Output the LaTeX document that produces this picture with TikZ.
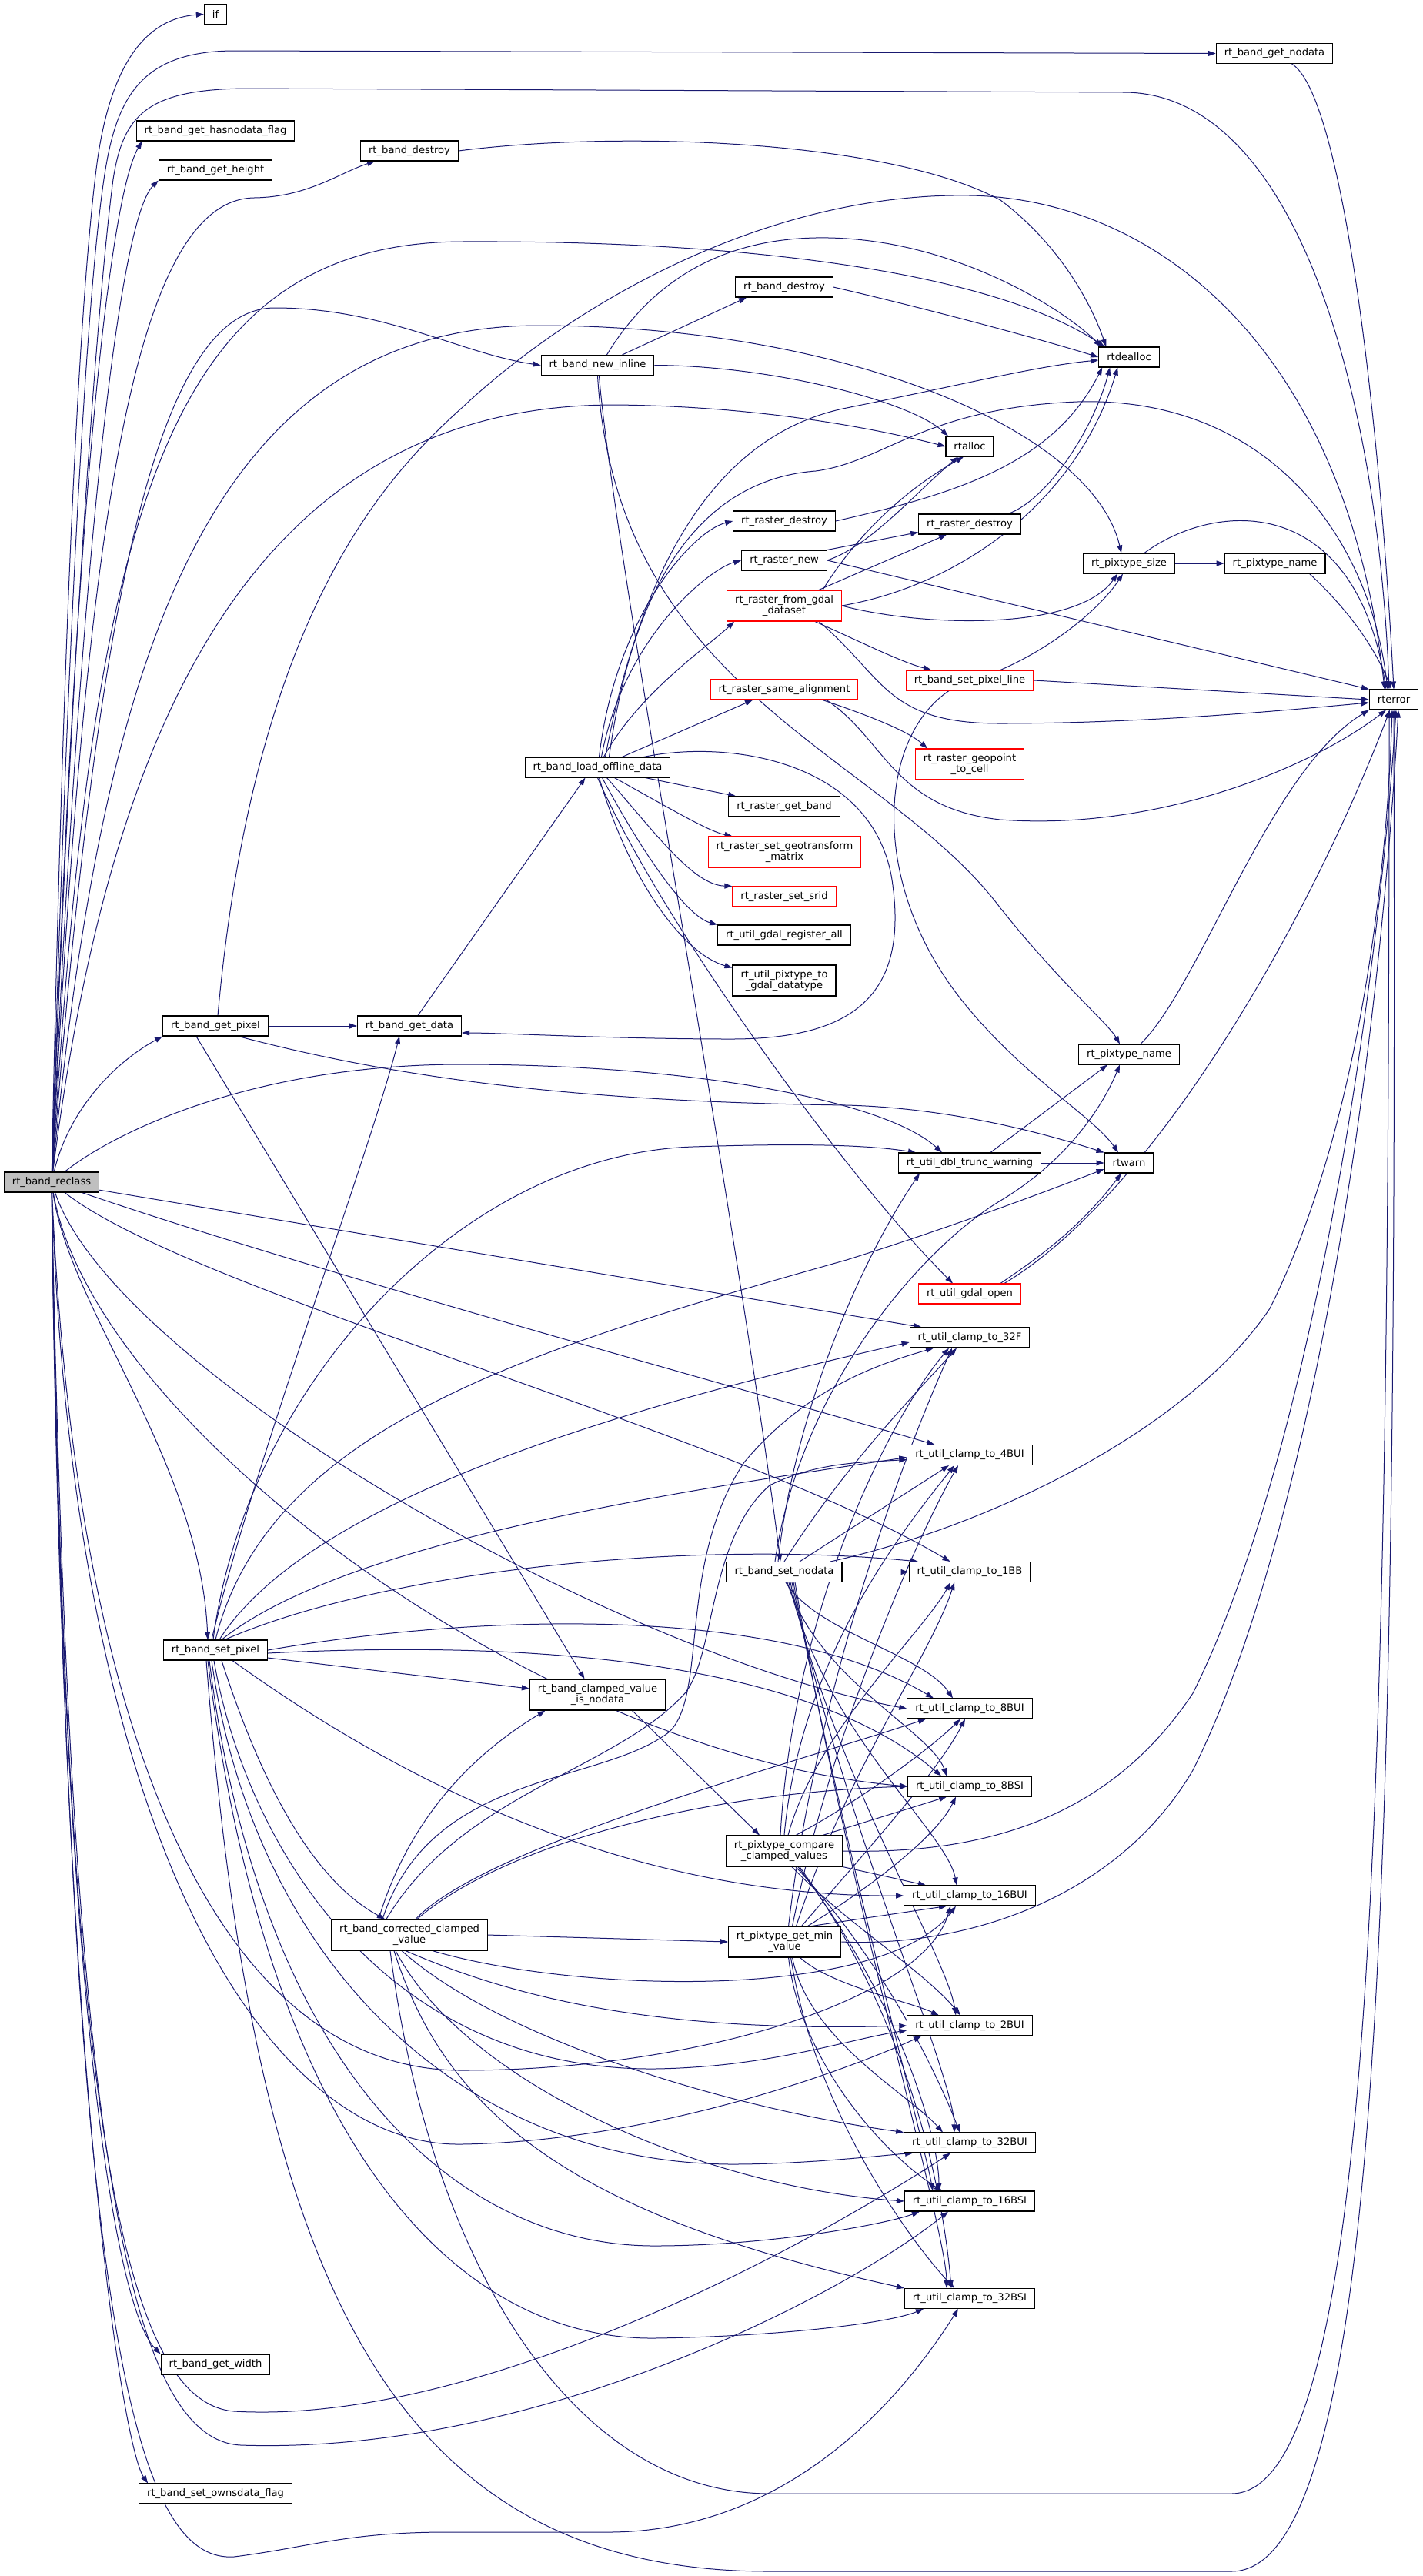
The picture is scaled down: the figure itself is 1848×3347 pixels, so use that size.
\documentclass[tikz,border=0pt]{standalone}
\usepackage{fontspec}
\setmainfont{DejaVu Sans}
\usetikzlibrary{arrows.meta,backgrounds}
\definecolor{edgeblue}{RGB}{25,25,112}
\definecolor{rootgray}{RGB}{191,191,191}
\tikzset{
  fn/.style={draw=black, line width=1.1pt, fill=white, font=\fontsize{13.1}{14}\selectfont,
    inner xsep=10.5pt, inner ysep=0pt, minimum height=26pt, align=center},
  twoline/.style={fn, minimum height=40pt},
  redfn/.style={fn, draw=red},
  redtwo/.style={twoline, draw=red},
  root/.style={fn, fill=rootgray},
  call/.style={draw=edgeblue, line width=1pt, -{Triangle[length=10pt,width=7pt]}}
}
\begin{document}
\begin{tikzpicture}[x=1pt,y=-1pt]
\useasboundingbox (0,0) rectangle (1848,3347);

% functions
\node[root] (reclass) at (67,1536) {rt\_band\_reclass};
\node[fn] (ifn) at (280,18.5) {if};
\node[fn] (hasnd) at (280,170) {rt\_band\_get\_hasnodata\_flag};
\node[fn] (height) at (280,221) {rt\_band\_get\_height};
\node[fn] (bdestroyA) at (532,196) {rt\_band\_destroy};
\node[fn] (getnd) at (1656,69.5) {rt\_band\_get\_nodata};
\node[fn] (rterror) at (1811,909) {rterror};
\node[fn] (dealloc) at (1467,464) {rtdealloc};
\node[fn] (newinl) at (776.5,474.5) {rt\_band\_new\_inline};
\node[fn] (bdestroyB) at (1019,373) {rt\_band\_destroy};
\node[fn] (alloc) at (1260,580) {rtalloc};
\node[fn] (rdestroyA) at (1019,677) {rt\_raster\_destroy};
\node[fn] (rdestroyB) at (1260,681) {rt\_raster\_destroy};
\node[fn] (rnew) at (1019,728) {rt\_raster\_new};
\node[fn] (pxsize) at (1467,732) {rt\_pixtype\_size};
\node[fn] (pxnameA) at (1656.6,732) {rt\_pixtype\_name};
\node[redtwo] (fromgdal) at (1019,787) {rt\_raster\_from\_gdal\\\_dataset};
\node[redfn] (pixline) at (1260,884) {rt\_band\_set\_pixel\_line};
\node[redfn] (samealign) at (1019,896) {rt\_raster\_same\_alignment};
\node[redtwo] (geopt) at (1260,993) {rt\_raster\_geopoint\\\_to\_cell};
\node[fn] (loadoff) at (776.5,997) {rt\_band\_load\_offline\_data};
\node[fn] (getband) at (1019,1048) {rt\_raster\_get\_band};
\node[redtwo] (setgt) at (1019.5,1107) {rt\_raster\_set\_geotransform\\\_matrix};
\node[redfn] (setsrid) at (1019,1165) {rt\_raster\_set\_srid};
\node[fn] (gdalreg) at (1019,1215) {rt\_util\_gdal\_register\_all};
\node[twoline] (px2gdal) at (1019,1274) {rt\_util\_pixtype\_to\\\_gdal\_datatype};
\node[fn] (getpix) at (280,1333) {rt\_band\_get\_pixel};
\node[fn] (getdata) at (532,1333) {rt\_band\_get\_data};
\node[fn] (pxnameB) at (1467,1370) {rt\_pixtype\_name};
\node[fn] (dbltrunc) at (1260,1511) {rt\_util\_dbl\_trunc\_warning};
\node[fn] (rtwarn) at (1467,1511) {rtwarn};
\node[redfn] (gdalopen) at (1260,1681) {rt\_util\_gdal\_open};
\node[fn] (c32F) at (1260,1738) {rt\_util\_clamp\_to\_32F};
\node[fn] (c4BUI) at (1260,1890.5) {rt\_util\_clamp\_to\_4BUI};
\node[fn] (setnd) at (1019,2042.5) {rt\_band\_set\_nodata};
\node[fn] (c1BB) at (1260,2042.5) {rt\_util\_clamp\_to\_1BB};
\node[fn] (setpix) at (280,2144) {rt\_band\_set\_pixel};
\node[twoline] (isnd) at (776.5,2202) {rt\_band\_clamped\_value\\\_is\_nodata};
\node[fn] (c8BUI) at (1260,2220) {rt\_util\_clamp\_to\_8BUI};
\node[fn] (c8BSI) at (1260,2321) {rt\_util\_clamp\_to\_8BSI};
\node[twoline] (cmpval) at (1019,2405) {rt\_pixtype\_compare\\\_clamped\_values};
\node[fn] (c16BUI) at (1260,2463) {rt\_util\_clamp\_to\_16BUI};
\node[twoline] (corr) at (532,2514) {rt\_band\_corrected\_clamped\\\_value};
\node[twoline] (minval) at (1019.6,2523) {rt\_pixtype\_get\_min\\\_value};
\node[fn] (c2BUI) at (1260,2632) {rt\_util\_clamp\_to\_2BUI};
\node[fn] (c32BUI) at (1260,2784) {rt\_util\_clamp\_to\_32BUI};
\node[fn] (c16BSI) at (1260,2860) {rt\_util\_clamp\_to\_16BSI};
\node[fn] (c32BSI) at (1260,2986.5) {rt\_util\_clamp\_to\_32BSI};
\node[fn] (getwidth) at (280,3072) {rt\_band\_get\_width};
\node[fn] (ownsdata) at (280,3240) {rt\_band\_set\_ownsdata\_flag};

\begin{scope}[on background layer]
% calls made by rt_band_reclass
\draw[call] (reclass) .. controls (80,900) and (100,420) .. (125,220) .. controls (140,100) and (180,25) .. (ifn.west);
\draw[call] (reclass) .. controls (85,900) and (110,400) .. (135,233) .. controls (150,130) and (180,68) .. (300,66) -- (getnd.west);
\draw[call] (reclass) .. controls (90,900) and (125,400) .. (147,233) .. controls (160,150) and (190,116) .. (320,115) -- (1460,120) .. controls (1680,120) and (1790,500) .. ([xshift=-6pt]rterror.north);
\draw[call] (reclass) .. controls (95,700) and (140,260) .. ([xshift=8pt]hasnd.south west);
\draw[call] (reclass) .. controls (100,800) and (150,290) .. (height.south west);
\draw[call] (reclass) .. controls (110,700) and (170,260) .. (330,257) .. controls (400,256) and (440,225) .. ([xshift=-45pt]bdestroyA.south);
\draw[call] (reclass) .. controls (120,700) and (200,316) .. (600,314) .. controls (1000,312) and (1300,360) .. ([xshift=8pt]dealloc.north west);
\draw[call] (reclass) .. controls (125,800) and (200,400) .. (357,400) .. controls (500,400) and (600,460) .. (newinl.west);
\draw[call] (reclass) .. controls (130,900) and (250,423) .. (700,423) .. controls (1100,423) and (1420,560) .. ([xshift=-10pt]pxsize.north);
\draw[call] (reclass) .. controls (135,1000) and (300,525) .. (800,526) .. controls (1000,528) and (1150,560) .. (alloc.west);
\draw[call] (reclass) .. controls (90,1440) and (150,1380) .. (getpix.south west);
\draw[call] (reclass) .. controls (150,1470) and (330,1383) .. (600,1383) .. controls (900,1383) and (1150,1430) .. ([xshift=-36pt]dbltrunc.north);
\draw[call] (reclass) -- ([xshift=16pt]c32F.north west);
\draw[call] (reclass) .. controls (400,1650) and (950,1800) .. ([xshift=36pt]c4BUI.north west);
\draw[call] (reclass) .. controls (250,1680) and (950,1860) .. ([xshift=54pt]c1BB.north west);
\draw[call] (reclass) .. controls (150,1780) and (800,2150) .. (c8BUI.west);
\draw[call] (reclass) .. controls (120,1850) and (700,2280) .. (c8BSI.west);
\draw[call] (reclass) .. controls (90,1700) and (260,1900) .. ([xshift=-10pt]setpix.north);
\draw[call] (reclass) .. controls (100,2300) and (300,2690) .. (600,2690) .. controls (900,2690) and (1200,2600) .. ([xshift=-25pt]c16BUI.south);
\draw[call] (reclass) .. controls (95,2400) and (350,2790) .. (600,2786) .. controls (850,2782) and (1100,2690) .. ([xshift=-63pt]c2BUI.south);
\draw[call] (reclass) .. controls (85,2700) and (150,3120) .. (304,3133) .. controls (600,3150) and (1000,2950) .. ([xshift=-25pt]c32BUI.south);
\draw[call] (reclass) .. controls (90,2750) and (160,3170) .. (313,3177) .. controls (700,3190) and (1100,2980) .. ([xshift=-28pt]c16BSI.south);
\draw[call] (reclass) .. controls (90,3000) and (170,3330) .. (304,3322) .. controls (400,3310) and (450,3290) .. (580,3290) -- (790,3290) .. controls (1000,3290) and (1150,3150) .. ([xshift=-15pt]c32BSI.south);
\draw[call] (reclass) .. controls (80,2600) and (150,3000) .. (getwidth.north west);
\draw[call] (reclass) .. controls (80,2700) and (160,3180) .. ([xshift=12pt]ownsdata.north west);

% upper part
\draw[call] (getnd) .. controls (1740,120) and (1790,500) .. (rterror.north);
\draw[call] (bdestroyA.east) .. controls (800,170) and (1150,180) .. (1300,260) .. controls (1380,320) and (1420,400) .. ([xshift=10pt]dealloc.north west);
\draw[call] ([xshift=32pt]newinl.north) -- ([xshift=-49pt]bdestroyB.south);
\draw[call] (newinl.east) .. controls (1000,475) and (1180,520) .. ([xshift=-28pt]alloc.north);
\draw[call] ([xshift=12pt]newinl.north) .. controls (850,360) and (950,300) .. (1100,310) .. controls (1250,320) and (1380,400) .. ([xshift=4pt]dealloc.north west);
\draw[call] ([xshift=2pt]newinl.south) .. controls (795,700) and (960,1600) .. ([xshift=-5pt]setnd.north);
\draw[call] (newinl.south) .. controls (800,900) and (1150,980) .. (1300,1180) .. controls (1380,1280) and (1440,1330) .. ([xshift=-12pt]pxnameB.north);
\draw[call] (bdestroyB.east) .. controls (1200,400) and (1350,440) .. (dealloc.west);
\draw[call] (rdestroyA.east) .. controls (1250,640) and (1370,600) .. ([xshift=5pt]dealloc.south west);
\draw[call] ([xshift=50pt]rdestroyB.north) .. controls (1360,650) and (1420,560) .. ([xshift=15pt]dealloc.south west);
\draw[call] (fromgdal.east) .. controls (1250,760) and (1400,650) .. ([xshift=25pt]dealloc.south west);
\draw[call] ([xshift=10pt]loadoff.north) .. controls (840,700) and (950,560) .. (1100,530) .. controls (1250,500) and (1350,475) .. ([yshift=-4pt]dealloc.west);
\draw[call] (rnew.east) .. controls (1130,710) and (1190,640) .. ([xshift=-15pt]alloc.south);
\draw[call] ([xshift=50pt]fromgdal.north) .. controls (1110,700) and (1170,640) .. ([xshift=-8pt]alloc.south);
\draw[call] (rnew.north east) -- ([yshift=3pt]rdestroyB.south west);
\draw[call] ([xshift=45pt]fromgdal.north) -- ([xshift=-30pt]rdestroyB.south);
\draw[call] (rnew.east) -- (rterror.north west);
\draw[call] (fromgdal.east) .. controls (1200,815) and (1400,820) .. ([xshift=-15pt]pxsize.south);
\draw[call] ([xshift=40pt]fromgdal.south) .. controls (1110,830) and (1170,860) .. ([xshift=-50pt]pixline.north);
\draw[call] ([xshift=45pt]fromgdal.south) .. controls (1150,880) and (1150,940) .. (1300,940) .. controls (1500,940) and (1700,920) .. ([yshift=-4pt]rterror.west);
\draw[call] (pxsize) -- (pxnameA);
\draw[call] ([xshift=20pt]pxsize.north) .. controls (1580,650) and (1760,640) .. ([xshift=-10pt]rterror.north);
\draw[call] ([xshift=45pt]pxnameA.south) .. controls (1760,800) and (1790,850) .. ([xshift=-3pt]rterror.north);
\draw[call] (pixline.east) -- (rterror.west);
\draw[call] ([xshift=40pt]pixline.north) .. controls (1370,840) and (1430,790) .. ([xshift=-8pt]pxsize.south);
\draw[call] ([xshift=-27pt]pixline.south) .. controls (1140,960) and (1130,1150) .. (1250,1300) .. controls (1330,1400) and (1420,1450) .. ([xshift=-14pt]rtwarn.north);
\draw[call] ([xshift=50pt]samealign.south) .. controls (1130,930) and (1180,950) .. ([xshift=-55pt]geopt.north);
\draw[call] ([xshift=55pt]samealign.south) .. controls (1150,960) and (1160,1050) .. (1300,1065) .. controls (1500,1080) and (1700,1000) .. ([xshift=-10pt]rterror.south);

% rt_band_load_offline_data
\draw[call] ([xshift=15pt]loadoff.north) .. controls (830,700) and (950,620) .. (1060,612) .. controls (1150,600) and (1200,530) .. (1400,522) .. controls (1650,515) and (1780,700) .. ([xshift=-8pt]rterror.north);
\draw[call] ([xshift=2pt]loadoff.north) .. controls (800,800) and (900,690) .. (rdestroyA.west);
\draw[call] ([xshift=5pt]loadoff.north) .. controls (810,830) and (920,740) .. (rnew.west);
\draw[call] ([xshift=8pt]loadoff.north) .. controls (830,900) and (920,840) .. ([xshift=-65pt]fromgdal.south);
\draw[call] ([xshift=32pt]loadoff.north) -- ([xshift=-41pt]samealign.south);
\draw[call] ([xshift=62pt]loadoff.south) -- ([xshift=10pt]getband.north west);
\draw[call] ([xshift=22pt]loadoff.south) .. controls (870,1050) and (920,1080) .. ([xshift=-68pt]setgt.north);
\draw[call] ([xshift=12pt]loadoff.south) .. controls (850,1080) and (900,1150) .. (setsrid.north west);
\draw[call] ([xshift=6pt]loadoff.south) .. controls (830,1100) and (890,1190) .. (gdalreg.north west);
\draw[call] ([xshift=2pt]loadoff.south) .. controls (820,1150) and (890,1240) .. ([yshift=-4pt]px2gdal.north west);
\draw[call] (loadoff.south) .. controls (860,1200) and (1100,1530) .. ([xshift=-22pt]gdalopen.north);
\draw[call] ([xshift=60pt]loadoff.north) .. controls (950,960) and (1140,990) .. (1160,1150) .. controls (1180,1300) and (1100,1350) .. (950,1350) .. controls (800,1350) and (650,1342) .. ([yshift=-9pt]getdata.east);

% rt_band_get_pixel, rt_band_get_data
\draw[call] ([xshift=11pt]getdata.north) -- ([xshift=-16pt]loadoff.south);
\draw[call] (getpix) -- (getdata);
\draw[call] ([xshift=3pt]getpix.north) .. controls (330,800) and (500,620) .. (600,530) .. controls (750,390) and (1000,250) .. (1260,254) .. controls (1500,258) and (1750,450) .. ([xshift=-12pt]rterror.north);
\draw[call] ([xshift=30pt]getpix.south) .. controls (550,1410) and (800,1432) .. (1100,1436) .. controls (1250,1440) and (1380,1480) .. (rtwarn.north west);
\draw[call] ([xshift=-25pt]getpix.south) -- ([xshift=-17pt]isnd.north);
\draw[call] (dbltrunc) -- (rtwarn);
\draw[call] ([xshift=27pt]dbltrunc.north) -- ([xshift=-28pt]pxnameB.south);
\draw[call] ([xshift=15pt]pxnameB.north) .. controls (1560,1280) and (1650,1000) .. (rterror.south west);
\draw[call] ([xshift=40pt]gdalopen.north) .. controls (1340,1640) and (1400,1600) .. ([xshift=-10pt]rtwarn.south);
\draw[call] ([xshift=45pt]gdalopen.north) .. controls (1500,1550) and (1700,1200) .. ([xshift=-5pt]rterror.south);

% rt_band_set_nodata
\draw[call] (setnd) -- (c1BB);
\draw[call] ([xshift=20pt]setnd.north) -- ([xshift=-27pt]c4BUI.south);
\draw[call] (setnd.north) .. controls (1100,1900) and (1200,1800) .. ([xshift=-17pt]c32F.south);
\draw[call] ([xshift=-8pt]setnd.north) .. controls (1030,1850) and (1110,1650) .. ([xshift=-65pt]dbltrunc.south);
\draw[call] ([xshift=-12pt]setnd.north) .. controls (1040,1800) and (1200,1620) .. (1300,1560) .. controls (1400,1500) and (1440,1420) .. ([xshift=-12pt]pxnameB.south);
\draw[call] ([xshift=60pt]setnd.north) .. controls (1300,1980) and (1550,1850) .. (1650,1700) .. controls (1750,1500) and (1800,1200) .. ([xshift=-2pt]rterror.south);
\draw[call] ([xshift=2pt]setnd.south) .. controls (1060,2120) and (1200,2150) .. ([xshift=-22pt]c8BUI.north);
\draw[call] ([xshift=4pt]setnd.south) .. controls (1060,2180) and (1210,2250) .. ([xshift=-30pt]c8BSI.north);
\draw[call] ([xshift=6pt]setnd.south) .. controls (1070,2250) and (1230,2380) .. ([xshift=-17pt]c16BUI.north);
\draw[call] ([xshift=8pt]setnd.south) .. controls (1080,2300) and (1230,2540) .. ([xshift=-18pt]c2BUI.north);
\draw[call] ([xshift=10pt]setnd.south) .. controls (1090,2350) and (1240,2700) .. ([xshift=-20pt]c32BUI.north);
\draw[call] ([xshift=12pt]setnd.south) .. controls (1095,2400) and (1200,2780) .. ([xshift=-48pt]c16BSI.north);
\draw[call] ([xshift=14pt]setnd.south) .. controls (1100,2450) and (1230,2900) .. ([xshift=-30pt]c32BSI.north);

% rt_pixtype_compare_clamped_values
\draw[call] ([xshift=45pt]isnd.south) -- ([xshift=-32pt]cmpval.north);
\draw[call] ([xshift=-5pt]cmpval.north) .. controls (1030,2100) and (1150,1850) .. ([xshift=-27pt]c32F.south);
\draw[call] (cmpval.north) .. controls (1040,2150) and (1180,1980) .. ([xshift=-20pt]c4BUI.south);
\draw[call] ([xshift=5pt]cmpval.north) .. controls (1060,2250) and (1200,2120) .. ([xshift=-25pt]c1BB.south);
\draw[call] ([xshift=15pt]cmpval.north) .. controls (1100,2350) and (1200,2280) .. ([xshift=-12pt]c8BUI.south);
\draw[call] ([xshift=50pt]cmpval.north) -- ([xshift=-30pt]c8BSI.south);
\draw[call] (cmpval.east) .. controls (1300,2410) and (1450,2350) .. (1550,2200) .. controls (1700,1900) and (1790,1300) .. ([xshift=3pt]rterror.south);
\draw[call] (cmpval.south east) -- ([xshift=-57pt]c16BUI.north);
\draw[call] ([xshift=10pt]cmpval.south) .. controls (1100,2500) and (1200,2560) .. ([xshift=-12pt]c2BUI.north);
\draw[call] ([xshift=15pt]cmpval.south) .. controls (1150,2550) and (1220,2700) .. ([xshift=-13pt]c32BUI.north);
\draw[call] ([xshift=18pt]cmpval.south) .. controls (1170,2600) and (1220,2780) .. ([xshift=-40pt]c16BSI.north);
\draw[call] ([xshift=20pt]cmpval.south) .. controls (1200,2650) and (1230,2900) .. ([xshift=-24pt]c32BSI.north);

% rt_pixtype_get_min_value
\draw[call] ([xshift=5pt]minval.north) .. controls (1060,2200) and (1170,1900) .. ([xshift=-23pt]c32F.south);
\draw[call] ([xshift=10pt]minval.north) .. controls (1080,2250) and (1190,2000) .. ([xshift=-15pt]c4BUI.south);
\draw[call] ([xshift=15pt]minval.north) .. controls (1100,2300) and (1210,2150) .. ([xshift=-20pt]c1BB.south);
\draw[call] ([xshift=22pt]minval.north) .. controls (1130,2400) and (1220,2300) .. ([xshift=-6pt]c8BUI.south);
\draw[call] ([xshift=30pt]minval.north) .. controls (1150,2440) and (1220,2380) .. ([xshift=-18pt]c8BSI.south);
\draw[call] ([xshift=35pt]minval.north) -- ([xshift=-30pt]c16BUI.south);
\draw[call] (minval.east) .. controls (1250,2530) and (1450,2470) .. (1550,2300) .. controls (1700,2000) and (1790,1400) .. ([xshift=6pt]rterror.south);
\draw[call] ([xshift=20pt]minval.south) .. controls (1080,2580) and (1180,2600) .. ([xshift=-40pt]c2BUI.north);
\draw[call] ([xshift=10pt]minval.south) .. controls (1050,2650) and (1180,2720) .. ([xshift=-35pt]c32BUI.north);
\draw[call] ([xshift=5pt]minval.south) .. controls (1040,2680) and (1150,2800) .. ([xshift=-36pt]c16BSI.north);
\draw[call] ([xshift=8pt]minval.south) .. controls (1060,2750) and (1190,2920) .. ([xshift=-20pt]c32BSI.north);

% rt_band_corrected_clamped_value
\draw[call] ([xshift=-40pt]corr.north) .. controls (520,2400) and (580,2300) .. ([xshift=-68pt]isnd.south);
\draw[call] (corr.east) -- (minval.west);
\draw[call] ([xshift=-35pt]corr.north) .. controls (560,2300) and (780,2320) .. (870,2250) .. controls (920,2200) and (880,2030) .. (967,1900) .. controls (1050,1800) and (1150,1770) .. ([xshift=-47pt]c32F.south);
\draw[call] ([xshift=-30pt]corr.north) .. controls (600,2330) and (800,2300) .. (890,2200) .. controls (930,2150) and (920,2000) .. (1000,1930) .. controls (1060,1900) and (1120,1900) .. ([yshift=-6pt]c4BUI.west);
\draw[call] ([xshift=8pt]corr.north) .. controls (630,2400) and (1000,2300) .. ([xshift=-57pt]c8BUI.south);
\draw[call] ([xshift=10pt]corr.north) .. controls (650,2400) and (900,2330) .. (c8BSI.west);
\draw[call] ([xshift=30pt]corr.south) .. controls (750,2590) and (1150,2600) .. ([xshift=-18pt]c16BUI.south);
\draw[call] ([xshift=-5pt]corr.south) .. controls (700,2610) and (900,2640) .. (c2BUI.west);
\draw[call] ([xshift=-10pt]corr.south) .. controls (650,2650) and (950,2740) .. (c32BUI.north west);
\draw[call] ([xshift=-18pt]corr.south) .. controls (600,2700) and (900,2840) .. (c16BSI.west);
\draw[call] ([xshift=-20pt]corr.south) .. controls (580,2750) and (750,2880) .. (c32BSI.north west);
\draw[call] ([xshift=-25pt]corr.south) .. controls (560,2950) and (750,3240) .. (1000,3240) -- (1600,3240) .. controls (1780,3240) and (1805,2400) .. ([xshift=-6pt]rterror.south);

% rt_band_set_pixel
\draw[call] ([xshift=-5pt]setpix.north) .. controls (330,1900) and (480,1500) .. ([xshift=-13pt]getdata.south);
\draw[call] ([xshift=-3pt]setpix.north) .. controls (320,1800) and (600,1500) .. (900,1490) .. controls (1050,1485) and (1130,1488) .. ([xshift=-70pt]dbltrunc.north);
\draw[call] (setpix.north) .. controls (350,1850) and (700,1750) .. (1100,1637) .. controls (1250,1590) and (1380,1540) .. ([yshift=-8pt]rtwarn.west);
\draw[call] ([xshift=5pt]setpix.north) .. controls (400,1950) and (800,1830) .. ([yshift=-6pt]c32F.west);
\draw[call] ([xshift=8pt]setpix.north) .. controls (450,2000) and (900,1935) .. ([yshift=-3pt]c4BUI.west);
\draw[call] ([xshift=12pt]setpix.north) .. controls (500,2040) and (900,2000) .. ([xshift=-67pt]c1BB.north);
\draw[call] (setpix.east) .. controls (600,2100) and (1000,2080) .. ([xshift=-47pt]c8BUI.north);
\draw[call] ([yshift=-4pt]setpix.east) .. controls (700,2130) and (1050,2160) .. ([xshift=-37pt]c8BSI.north);
\draw[call] ([yshift=-10pt]setpix.east) -- ([yshift=8pt]isnd.west);
\draw[call] ([xshift=22pt]setpix.south) .. controls (500,2300) and (800,2465) .. (c16BUI.west);
\draw[call] ([xshift=8pt]setpix.south) .. controls (350,2350) and (420,2450) .. ([xshift=-32pt]corr.north);
\draw[call] ([xshift=-2pt]setpix.south) .. controls (320,2400) and (500,2690) .. (850,2688) .. controls (1000,2686) and (1100,2650) .. ([yshift=-6pt]c2BUI.west);
\draw[call] ([xshift=-5pt]setpix.south) .. controls (330,2550) and (600,2810) .. (950,2812) .. controls (1050,2812) and (1150,2800) .. ([xshift=12pt]c32BUI.south west);
\draw[call] ([xshift=-8pt]setpix.south) .. controls (340,2700) and (600,2918) .. (850,2918) .. controls (1000,2918) and (1150,2890) .. ([xshift=20pt]c16BSI.south west);
\draw[call] ([xshift=-10pt]setpix.south) .. controls (350,2800) and (600,3040) .. (850,3038) .. controls (1000,3036) and (1150,3020) .. ([xshift=25pt]c32BSI.south west);
\draw[call] ([xshift=-12pt]setpix.south) .. controls (330,2950) and (500,3341) .. (1000,3341) -- (1600,3341) .. controls (1800,3341) and (1815,2400) .. (rterror.south);
\end{scope}
\end{tikzpicture}
\end{document}
